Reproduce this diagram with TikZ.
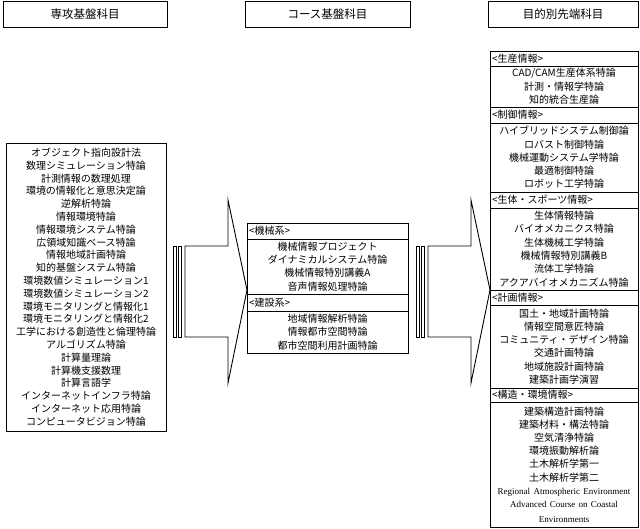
\documentclass[tikz,border=0pt]{standalone}
\usepackage{fontspec}
\setmainfont{Noto Sans CJK JP}
\newfontfamily\enfont{Liberation Serif}
\usetikzlibrary{positioning}
\begin{document}
\begin{tikzpicture}[x=1pt,y=-1pt,line cap=butt,line join=miter,font=\fontsize{10}{13.3}\selectfont]
	\tikzset{title/.style={draw,line width=.9pt,outer sep=0pt,minimum width=#1,minimum height=26pt,anchor=north west,inner sep=0pt,font=\fontsize{11.5}{13}\selectfont},
		hdr/.style={draw,line width=.9pt,outer sep=0pt,anchor=north west,inner xsep=2pt,inner ysep=0pt,text width=#1-4pt,align=left},
		grp/.style={draw,line width=.9pt,outer sep=0pt,anchor=north west,inner sep=0pt,text width=#1,align=center}}
	\useasboundingbox (0,0) rectangle (640,529);
	% Titel
	\node[title=164pt] (lhead) at (3,1) {専攻基盤科目};
	\node[title=165pt] (chead) at (245,1) {コース基盤科目};
	\node[title=150pt] (rhead) at (488,1) {目的別先端科目};
	% Linke Spalte
	\node[grp=160pt,minimum height=288pt,font=\fontsize{10}{12.8}\selectfont] (lbox) at (6,143) {オブジェクト指向設計法\\数理シミュレーション特論\\計測情報の数理処理\\環境の情報化と意思決定論\\逆解析特論\\情報環境特論\\情報環境システム特論\\広領域知識ベース特論\\情報地域計画特論\\知的基盤システム特論\\環境数値シミュレーション1\\環境数値シミュレーション2\\環境モニタリングと情報化1\\環境モニタリングと情報化2\\工学における創造性と倫理特論\\アルゴリズム特論\\計算量理論\\計算機支援数理\\計算言語学\\インターネットインフラ特論\\インターネット応用特論\\コンピュータビジョン特論};
	% Mittlere Spalte
	\node[hdr=161pt,minimum height=16pt] (kikaiH) at (247,223) {<機械系>};
	\node[grp=161pt,minimum height=55pt] (kikai) at (kikaiH.south west) {機械情報プロジェクト\\ダイナミカルシステム特論\\機械情報特別講義A\\音声情報処理特論};
	\node[hdr=161pt,minimum height=17pt] (kensetsuH) at (kikai.south west) {<建設系>};
	\node[grp=161pt,minimum height=42pt] (kensetsu) at (kensetsuH.south west) {地域情報解析特論\\情報都市空間特論\\都市空間利用計画特論};
	% Rechte Spalte
	\node[hdr=148pt,minimum height=15pt] (seisanH) at (490,51) {<生産情報>};
	\node[grp=148pt,minimum height=41pt] (seisan) at (seisanH.south west) {CAD/CAM生産体系特論\\計測・情報学特論\\知的統合生産論};
	\node[hdr=148pt,minimum height=16pt] (seigyoH) at (seisan.south west) {<制御情報>};
	\node[grp=148pt,minimum height=69pt] (seigyo) at (seigyoH.south west) {ハイブリッドシステム制御論\\ロバスト制御特論\\機械運動システム学特論\\最適制御特論\\ロボット工学特論};
	\node[hdr=148pt,minimum height=16pt] (seitaiH) at (seigyo.south west) {<生体・スポーツ情報>};
	\node[grp=148pt,minimum height=82pt] (seitai) at (seitaiH.south west) {生体情報特論\\バイオメカニクス特論\\生体機械工学特論\\機械情報特別講義B\\流体工学特論\\アクアバイオメカニズム特論};
	\node[hdr=148pt,minimum height=15pt] (keikakuH) at (seitai.south west) {<計画情報>};
	\node[grp=148pt,minimum height=83pt] (keikaku) at (keikakuH.south west) {国土・地域計画特論\\情報空間意匠特論\\コミュニティ・デザイン特論\\交通計画特論\\地域施設計画特論\\建築計画学演習};
	\node[hdr=148pt,minimum height=14pt] (kouzouH) at (keikaku.south west) {<構造・環境情報>};
	\node[grp=148pt,minimum height=125pt,font=\fontsize{10}{13.2}\selectfont] (kouzou) at (kouzouH.south west) {建築構造計画特論\\建築材料・構法特論\\空気清浄特論\\環境振動解析論\\土木解析学第一\\土木解析学第二\\{\enfont\fontsize{9}{13}\selectfont Regional Atmospheric Environment}\\{\enfont\fontsize{9}{13}\selectfont Advanced Course on Coastal}\\[1.5pt]{\enfont\fontsize{9}{13}\selectfont Environments}};
	% Pfeile
	\foreach \b in {173,416}{
		\draw[line width=.9pt] (\b,246) rectangle ++(3,91) (\b+5,246) rectangle ++(3,91);
		\draw[line width=.9pt] (\b+12,246)--(\b+55,246)--(\b+55,200)--(\b+74,290)--(\b+55,383)--(\b+55,337)--(\b+12,337)--cycle;}
\end{tikzpicture}
\end{document}
